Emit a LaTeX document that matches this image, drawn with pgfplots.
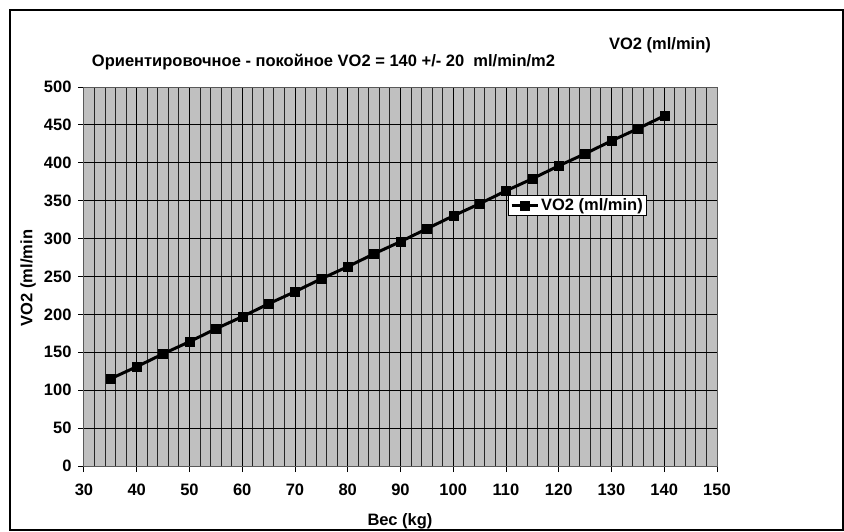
\documentclass[border=0pt]{standalone}
\usepackage{fontspec}
\setmainfont{Liberation Sans}
\usepackage{pgfplots}
\pgfplotsset{compat=1.18}
\definecolor{plotgray}{HTML}{C0C0C0}
\newcommand{\bigf}{\fontsize{16.5}{19}\selectfont\bfseries}
\begin{document}
\begin{tikzpicture}[x=1pt,y=1pt]
\path[use as bounding box] (0,0) rectangle (844,531);
\draw[line width=2pt] (10,1) rectangle (843,521);
\begin{axis}[
  at={(84pt,65pt)}, anchor=south west,
  scale only axis, width=633pt, height=379pt,
  xmin=30, xmax=150, ymin=0, ymax=500,
  xtick={30,40,...,150}, ytick={0,50,...,500},
  minor x tick num=4,
  axis background/.style={fill=plotgray},
  grid=both,
  major grid style={black, line width=1pt},
  minor grid style={black!85, line width=1pt},
  minor tick length=0pt,
  major tick length=6pt,
  tick align=outside,
  xtick pos=bottom, ytick pos=left,
  axis line style={gray!70!black, line width=1pt},
  every tick/.style={black, line width=1pt},
  /pgf/number format/assume math mode=true,
  tick label style={font=\bigf},
  xticklabel style={yshift=-8pt},
  yticklabel style={xshift=-3pt},
  legend style={at={(0.67,0.715)}, anchor=north west, draw=black, line width=0.8pt, fill=white,
     font=\bigf, inner sep=1.5pt, row sep=0pt},
  legend image code/.code={
    \draw[#1, mark repeat=2, mark phase=2] plot coordinates {(0pt,0pt) (13pt,0pt) (26pt,0pt)};
  },
  legend cell align=left,
]
\addplot[black, line width=3pt, mark=square*, mark size=4.5pt, mark options={solid, line width=0.5pt}] coordinates {
(35,115) (40,131) (45,148) (50,164) (55,181) (60,197) (65,214) (70,230)
(75,247) (80,263) (85,280) (90,296) (95,313) (100,330) (105,346) (110,363)
(115,379) (120,396) (125,412) (130,429) (135,445) (140,462)
};
\addlegendentry{VO2 (ml/min)}
\end{axis}
\node[font=\bigf] at (323.5,469) {Ориентировочное - покойное VO2 = 140 +/- 20\ \ ml/min/m2};
\node[font=\bigf] at (660,486) {VO2 (ml/min)};
\node[font=\bigf, rotate=90] at (28,253) {VO2 (ml/min};
\node[font=\bigf] at (400,10) {Вес (kg)};
\end{tikzpicture}
\end{document}
